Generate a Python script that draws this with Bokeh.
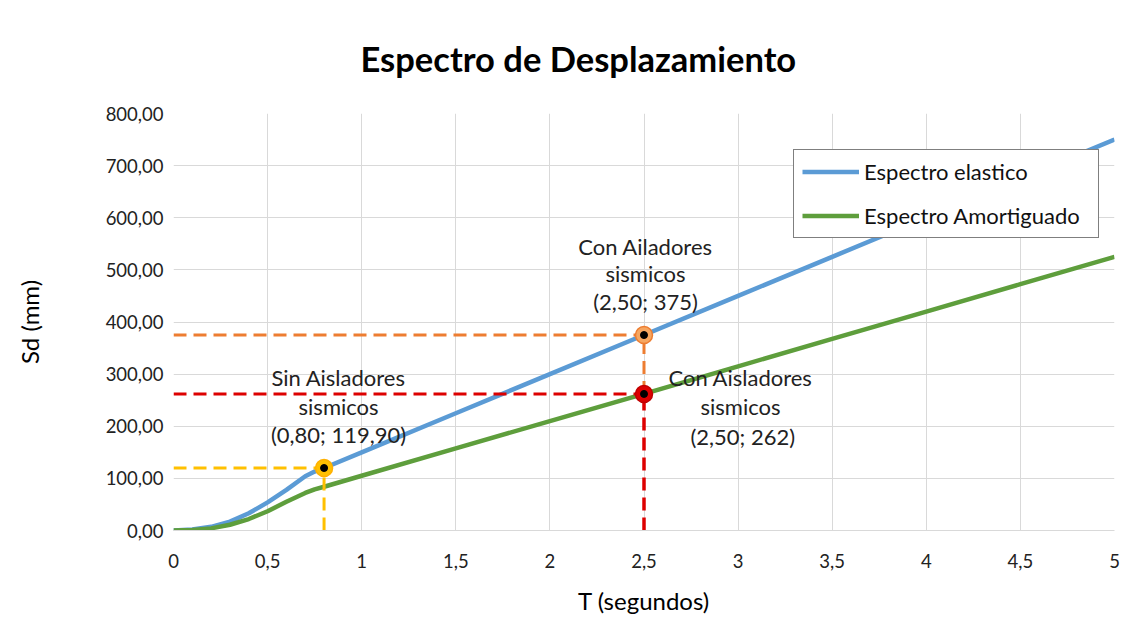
from bokeh.plotting import figure
from bokeh.models import Legend, LegendItem, Label, FixedTicker
from bokeh.embed import file_html
from bokeh.resources import INLINE

# ---- data ----
T_vals = [0, 0.1, 0.2, 0.3, 0.4, 0.5, 0.6, 0.7, 0.75, 0.8, 1.0, 1.5, 2.0, 2.5, 3.0, 3.5, 4.0, 4.5, 5.0]
sd_elastico = [0, 2, 7, 17, 33, 54, 78, 104, 113, 119.9, 150, 225, 300, 375, 450, 525, 600, 675, 750]
sd_amortiguado = [0, 1, 4, 11, 22, 37, 55, 72, 79, 84, 105, 157.5, 210, 262, 315, 367.5, 420, 472.5, 525]

pt_T = [0.8, 2.5, 2.5]          # sin aisladores, con aisladores (elastico), con aisladores (amortiguado)
pt_sd = [119.9, 375, 262]

x_ticks = [0, 0.5, 1, 1.5, 2, 2.5, 3, 3.5, 4, 4.5, 5]
x_tick_labels = ["0", "0,5", "1", "1,5", "2", "2,5", "3", "3,5", "4", "4,5", "5"]
y_ticks = [0, 100, 200, 300, 400, 500, 600, 700, 800]
y_tick_labels = ["0,00", "100,00", "200,00", "300,00", "400,00", "500,00", "600,00", "700,00", "800,00"]

FONT = "Lato"

p = figure(width=1131, height=627, x_range=(0, 5), y_range=(0, 800),
           output_backend="svg", toolbar_location=None,
           min_border_left=173, min_border_right=17, min_border_top=111, min_border_bottom=97)

p.title.text = "Espectro de Desplazamiento"
p.title.align = "left"
p.title.offset = 187
p.title.text_font = FONT
p.title.text_font_size = "34.5px"
p.title.text_font_style = "bold"
p.title.text_color = "#000000"
p.title.standoff = 70

p.outline_line_color = None
p.background_fill_color = "white"

# axes
p.xaxis.ticker = FixedTicker(ticks=x_ticks)
p.xaxis.major_label_overrides = dict(zip(x_ticks, x_tick_labels))
p.yaxis.ticker = FixedTicker(ticks=y_ticks)
p.yaxis.major_label_overrides = dict(zip(y_ticks, y_tick_labels))
p.xgrid.ticker = FixedTicker(ticks=x_ticks)
p.ygrid.ticker = FixedTicker(ticks=y_ticks)
for g in (p.xgrid, p.ygrid):
    g.grid_line_color = "#d9d9d9"
    g.grid_line_width = 1

for ax in (p.xaxis, p.yaxis):
    ax.major_tick_line_color = None
    ax.minor_tick_line_color = None
    ax.major_label_text_font = FONT
    ax.major_label_text_font_size = "18.5px"
    ax.major_label_text_color = "#222222"
    ax.axis_label_text_font = FONT
    ax.axis_label_text_font_size = "24px"
    ax.axis_label_text_font_style = "normal"
    ax.axis_label_text_color = "#000000"

p.xaxis.axis_line_color = "#d9d9d9"
p.yaxis.axis_line_color = None
p.xaxis.axis_label = "T (segundos)"
p.yaxis.axis_label = "Sd (mm)"
p.xaxis.major_label_standoff = 17
p.xaxis.axis_label_standoff = 15
p.yaxis.major_label_standoff = 4
p.yaxis.axis_label_standoff = 59

# curves
r_el = p.line(T_vals, sd_elastico, line_color="#5B9BD5", line_width=4.5)
r_am = p.line(T_vals, sd_amortiguado, line_color="#5E9E3C", line_width=4.5)

# dashed reference lines
dash = "13 7"
yel, ora, red = "#FFC000", "#ED7D31", "#DD0000"
p.line([0, pt_T[0]], [pt_sd[0], pt_sd[0]], line_color=yel, line_width=3, line_dash=dash)
p.line([pt_T[0], pt_T[0]], [0, pt_sd[0]], line_color=yel, line_width=3, line_dash=dash)
p.line([0, pt_T[1]], [pt_sd[1], pt_sd[1]], line_color=ora, line_width=3, line_dash=dash)
p.line([pt_T[1], pt_T[1]], [pt_sd[2], pt_sd[1]], line_color=ora, line_width=3, line_dash=dash)
p.line([0, pt_T[2]], [pt_sd[2], pt_sd[2]], line_color=red, line_width=3, line_dash=dash)
p.line([pt_T[2], pt_T[2]], [0, pt_sd[2]], line_color=red, line_width=3.5, line_dash=dash)

# markers
p.scatter(pt_T, pt_sd, size=17, fill_color=["#FFC000", "#F6A660", "#DD0000"],
          line_color=["#FFB000", "#ED7D31", "#C00000"], line_width=1.5)
p.scatter(pt_T, pt_sd, size=7, fill_color="black", line_color="black")

# annotations
def lbl(x, y, txt, yoff):
    p.add_layout(Label(x=x, y=y, y_offset=yoff, text=txt, text_align="center",
                       text_baseline="middle", text_font=FONT, text_font_size="22px",
                       text_color="#222222"))

lbl(0.877, 294, "Sin Aisladores", 0)
lbl(0.877, 294, "sismicos", -29)
lbl(0.877, 294, "(0,80; 119,90)", -57)

lbl(2.508, 544, "Con Ailadores", 0)
lbl(2.508, 544, "sismicos", -27)
lbl(2.508, 544, "(2,50; 375)", -55)

lbl(3.013, 294, "Con Aisladores", 0)
lbl(3.013, 294, "sismicos", -29)
lbl(3.025, 294, "(2,50; 262)", -59)

legend = Legend(items=[LegendItem(label="Espectro elastico", renderers=[r_el]),
                       LegendItem(label="Espectro Amortiguado", renderers=[r_am])],
                location=(620, 292))
legend.margin = 0
legend.border_line_color = "black"
legend.border_line_width = 1.5
legend.background_fill_color = "white"
legend.background_fill_alpha = 1
legend.label_text_font = FONT
legend.label_text_font_size = "22px"
legend.label_text_color = "#111111"
legend.glyph_width = 57
legend.glyph_height = 27
legend.label_height = 27
legend.label_width = 226
legend.label_standoff = 5
legend.padding = 8
legend.spacing = 17
p.add_layout(legend, "center")

open("out.html", "w").write(file_html(p, INLINE))
